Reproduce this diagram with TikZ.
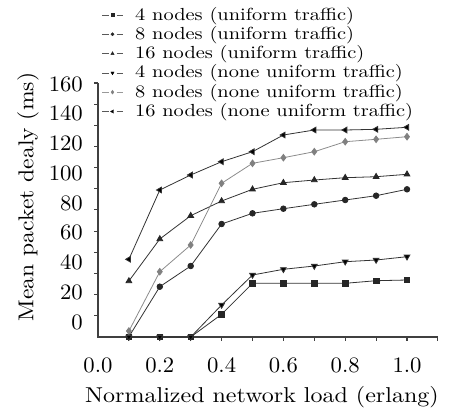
\documentclass[tikz,border=0pt]{standalone}
\usepackage{graphicx}
\usetikzlibrary{plotmarks}
\newcommand{\ticktxt}[1]{\scalebox{2.27}[2.2]{#1}}
\newcommand{\legtxt}[1]{\scalebox{2.04}[1.75]{#1}}
\tikzset{
  axisline/.style={draw=black!75, line width=1.1pt},
  serline/.style={draw=black!80, line width=0.8pt},
  grayline/.style={draw=black!45, line width=0.8pt},
  blackmark/.style={mark options={solid, fill=black!85, draw=black!85}},
  graymark/.style={mark options={solid, fill=black!50, draw=black!50}},
  lab/.style={inner sep=0pt},
  legline/.style={draw=black!65, line width=0.7pt},
}
\begin{document}
\begin{tikzpicture}[x=1pt,y=-1pt]
\useasboundingbox (0,0) rectangle (452,410);
% axes
\draw[axisline] (98,83) -- (98,337) -- (438,337);
\foreach \k in {0,...,11} \draw[axisline] (98,{83+\k*21.15}) -- (94,{83+\k*21.15});
\foreach \k in {1,...,11} \draw[axisline] ({98+\k*30.9},337) -- ({98+\k*30.9},341);
% y tick labels
\foreach \v [count=\i from 0] in {0,20,40,60,80,100,120,140,160}
  \node[lab,anchor=east] (yl\v) at (83,{322-\i*29.75}) {\ticktxt{\v}};
% x tick labels
\foreach \v/\i in {0.0/0,0.2/2,0.4/4,0.6/6,0.8/8,1.0/10}
  \node[lab] (xl\i) at ({98+\i*30.9},365) {\ticktxt{\v}};
% titles
\node[lab,anchor=base west] (xt) at (85,402) {\scalebox{2.4}[2.15]{Normalized network load (erlang)}};
\node[lab,rotate=90] (yt) at (28,197) {\scalebox{2.36}[2.15]{Mean packet dealy (ms)}};
% series
% 4 nodes uniform
\draw[serline] plot[mark=square*, mark size=2.8pt, blackmark] coordinates {
 (128.9,337) (159.8,337) (190.7,337) (221.6,314.3) (252.5,283.3) (283.4,283.3)
 (314.3,283.3) (345.2,283.3) (376.1,280.7) (407.0,280)};
% 8 nodes uniform
\draw[serline] plot[mark=*, mark size=2.8pt, blackmark] coordinates {
 (128.9,336.7) (159.8,286.7) (190.7,266) (221.6,224) (252.5,213.3) (283.4,208.7)
 (314.3,204.3) (345.2,200) (376.1,195.7) (407.0,189.3)};
% 16 nodes uniform
\draw[serline] plot[mark=triangle*, mark size=3.3pt, blackmark] coordinates {
 (128.9,281) (159.8,239) (190.7,215.7) (221.6,201) (252.5,189.3) (283.4,182.7)
 (314.3,180) (345.2,177.7) (376.1,176.7) (407.0,174.3)};
% 4 nodes none uniform
\draw[serline] plot[mark=triangle*, mark size=3.3pt, blackmark, mark options={rotate=180}] coordinates {
 (128.9,337) (159.8,337) (190.7,337) (221.6,305) (252.5,275) (283.4,269.3)
 (314.3,266) (345.2,261.7) (376.1,260) (407.0,256.7)};
% 8 nodes none uniform
\draw[grayline] plot[mark=diamond*, mark size=3.3pt, graymark] coordinates {
 (128.9,331) (159.8,271.7) (190.7,245) (221.6,183.3) (252.5,163.3) (283.4,157.7)
 (314.3,151.7) (345.2,141.7) (376.1,139.3) (407.0,136.7)};
% 16 nodes none uniform
\draw[serline] plot[mark=triangle*, mark size=3.3pt, blackmark, mark options={rotate=90}] coordinates {
 (128.9,259.3) (159.8,190) (190.7,175) (221.6,161.7) (252.5,151.7) (283.4,135)
 (314.3,130) (345.2,130) (376.1,129.3) (407.0,127.3)};
% legend
\foreach \r/\t in {0/{4 nodes (uniform traffic)},1/{8 nodes (uniform traffic)},2/{16 nodes (uniform traffic)},3/{4 nodes (none uniform traffic)},4/{8 nodes (none uniform traffic)},5/{16 nodes (none uniform traffic)}}
  \node[lab,anchor=base west] (lt\r) at (135,{20+\r*19.3}) {\legtxt{\t}};
\foreach \y in {15,34.3,53.6,72.9,111.5} {
  \draw[legline] (102,\y) -- (108.5,\y);
  \draw[legline] (116.5,\y) -- (123,\y);
}
\draw[legline, draw=black!40] (102,92.2) -- (108.5,92.2);
\draw[legline, draw=black!40] (116.5,92.2) -- (123,92.2);
\path plot[mark=square*, mark size=1.6pt, blackmark] coordinates {(112.5,15)};
\path plot[mark=*, mark size=1.6pt, blackmark] coordinates {(112.5,34.3)};
\path plot[mark=triangle*, mark size=1.9pt, blackmark] coordinates {(112.5,53.6)};
\path plot[mark=triangle*, mark size=1.9pt, blackmark, mark options={rotate=180}] coordinates {(112.5,72.9)};
\path plot[mark=diamond*, mark size=1.9pt, graymark] coordinates {(112.5,92.2)};
\path plot[mark=triangle*, mark size=1.9pt, blackmark, mark options={rotate=90}] coordinates {(112.5,111.5)};
\end{tikzpicture}
\end{document}
